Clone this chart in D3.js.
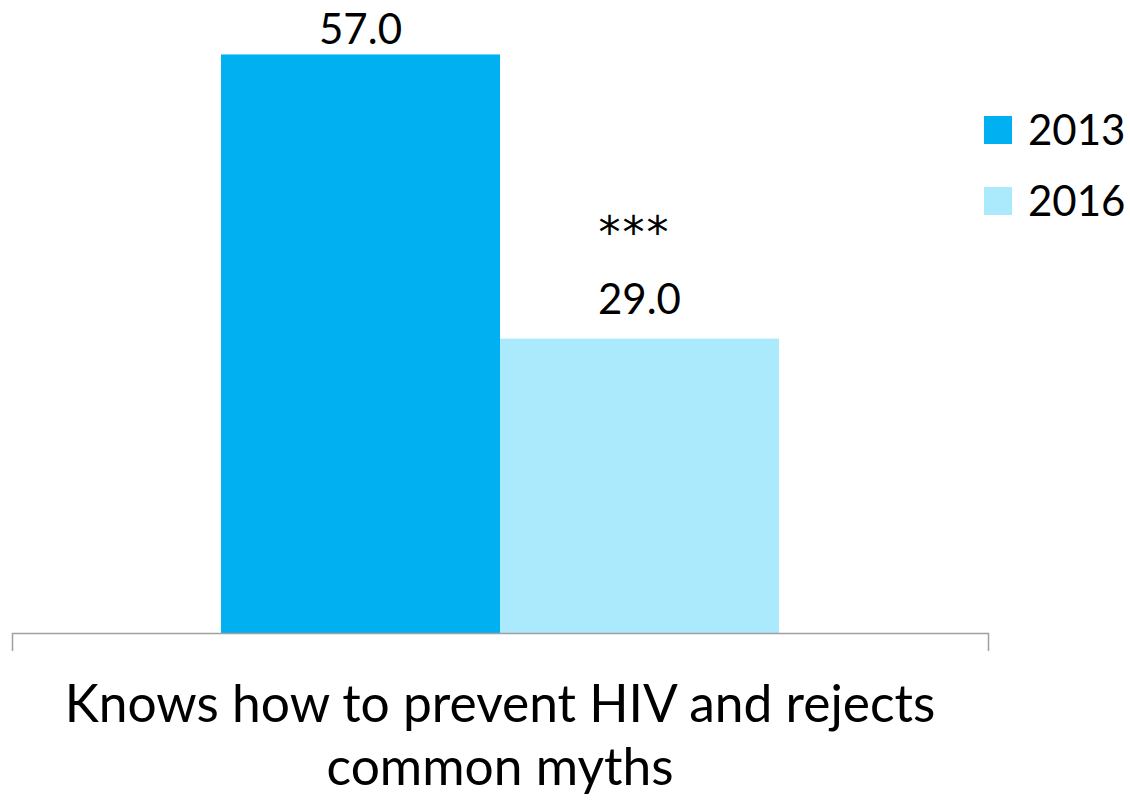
<!DOCTYPE html>
<html lang="en"><head><meta charset="utf-8">
  <title>HIV knowledge 2013 vs 2016</title>
  <script src="https://cdn.jsdelivr.net/npm/d3@7/dist/d3.min.js"></script>
  <style>
   body { margin: 0; background: white; }
   text { font-family: Lato, "Open Sans", sans-serif; fill: black; }
   text.sig { font-family: "DejaVu Sans", sans-serif; }
  </style>
</head>
<body>
  <script>
   // data
   var categories = ["Knows how to prevent HIV and rejects common myths"];
   var categoryLines = [["Knows how to prevent HIV and rejects", "common myths"]];
   var series = ["2013", "2016"];
   var values2013 = [57.0];
   var values2016 = [29.0];
   var significance = ["", "***"];
   var colors = ["#00b0f0", "#abe9fc"];

   var width = 1130;
   var height = 800;
   var baseY = 633;

   var svg = d3.select("body").append("svg")
               .attr("width", width)
               .attr("height", height);

   var x0 = d3.scaleBand().domain(categories).range([12, 988])
              .paddingInner(0).paddingOuter(0.3746);
   var x1 = d3.scaleBand().domain(series).range([0, x0.bandwidth()]);
   var y = d3.scaleLinear().domain([0, 60]).range([baseY, 24]);
   var color = d3.scaleOrdinal().domain(series).range(colors);

   var rows = categories.map(function(c, i) {
     return [
       { cat: c, year: "2013", value: values2013[i], sig: significance[0] },
       { cat: c, year: "2016", value: values2016[i], sig: significance[1] }
     ];
   });

   var groups = svg.selectAll(".group")
                   .data(rows)
                   .enter()
                   .append("g")
                   .attr("class", "group")
                   .attr("transform", function(d, i) {
                     return "translate(" + x0(categories[i]) + ",0)";
                   });

   groups.selectAll("rect")
         .data(function(d) { return d; })
         .enter()
         .append("rect")
         .attr("x", function(d) { return x1(d.year); })
         .attr("y", function(d) { return y(d.value); })
         .attr("width", x1.bandwidth())
         .attr("height", function(d) { return baseY - y(d.value); })
         .attr("fill", function(d) { return color(d.year); });

   // value labels (clamped so the top one stays on the page)
   groups.selectAll(".val")
         .data(function(d) { return d; })
         .enter()
         .append("text")
         .attr("class", "val")
         .attr("text-anchor", "middle")
         .attr("font-size", 42)
         .attr("x", function(d) { return x1(d.year) + x1.bandwidth() / 2; })
         .attr("y", function(d) { return Math.max(y(d.value) - 25, 44); })
         .text(function(d) { return d.value.toFixed(1); });

   groups.selectAll(".sig")
         .data(function(d) { return d.filter(function(e) { return e.sig; }); })
         .enter()
         .append("text")
         .attr("class", "sig")
         .attr("text-anchor", "middle")
         .attr("font-size", 44)
         .attr("letter-spacing", 2)
         .attr("x", function(d) { return x1(d.year) + x1.bandwidth() / 2 - 5; })
         .attr("y", function(d) { return y(d.value) - 25 - 66; })
         .text(function(d) { return d.sig; });

   // axis: domain line with outer ticks only
   var axis = svg.append("g")
                 .attr("transform", "translate(0," + baseY + ")")
                 .call(d3.axisBottom(x0).tickSizeInner(0).tickSizeOuter(18).tickFormat(""));
   axis.select(".domain")
       .attr("stroke", "#a0a0a0")
       .attr("stroke-width", 1.5);
   axis.selectAll(".tick").remove();

   // category label
   categories.forEach(function(c, i) {
     var t = svg.append("text")
                .attr("class", "catLabel")
                .attr("text-anchor", "middle")
                .attr("font-size", 51.5)
                .attr("x", x0(c) + x0.bandwidth() / 2)
                .attr("y", 722);
     t.selectAll("tspan")
      .data(categoryLines[i])
      .enter()
      .append("tspan")
      .attr("x", x0(c) + x0.bandwidth() / 2)
      .attr("dy", function(d, j) { return j === 0 ? 0 : 63; })
      .text(function(d) { return d; });
   });

   // legend
   var legend = svg.append("g")
                   .selectAll(".legend")
                   .data(series)
                   .enter()
                   .append("g")
                   .attr("class", "legend")
                   .attr("transform", function(d, i) {
                     return "translate(984," + (116 + i * 71) + ")";
                   });
   legend.append("rect")
         .attr("width", 28)
         .attr("height", 28)
         .attr("fill", function(d) { return color(d); });
   legend.append("text")
         .attr("x", 44)
         .attr("y", 29)
         .attr("font-size", 42)
         .text(function(d) { return d; });
  </script>
</body></html>
